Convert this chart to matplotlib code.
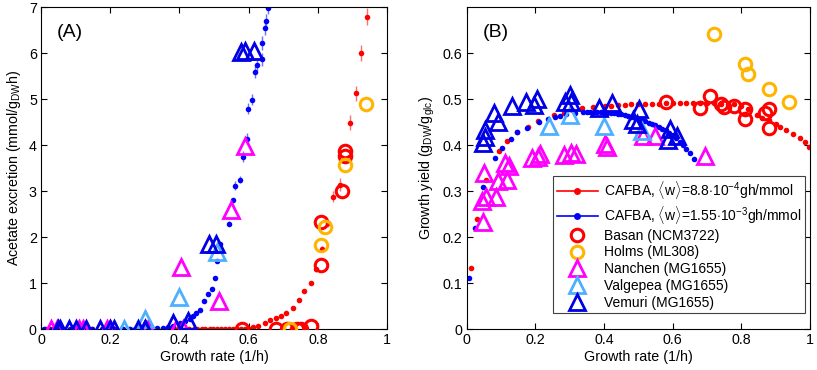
import matplotlib
matplotlib.use("Agg")
import matplotlib.pyplot as plt
from matplotlib.lines import Line2D

plt.rcParams['font.family'] = ['Liberation Sans', 'DejaVu Sans']
plt.rcParams['mathtext.fontset'] = 'custom'
plt.rcParams['mathtext.rm'] = 'Liberation Sans'
plt.rcParams['mathtext.it'] = 'Liberation Sans:italic'
plt.rcParams['mathtext.bf'] = 'Liberation Sans:bold'

# ---------------- Panel A data (acetate excretion) ----------------
# CAFBA model, w = 8.8e-4 (red)
redA_mu = [0.012, 0.029, 0.056, 0.095, 0.117, 0.147, 0.178, 0.208, 0.253, 0.283,
           0.307, 0.336, 0.360, 0.372, 0.383, 0.395, 0.406, 0.418, 0.429, 0.441,
           0.452, 0.464, 0.475, 0.487, 0.498, 0.510, 0.521, 0.533, 0.544, 0.556,
           0.567, 0.579, 0.590, 0.602, 0.613, 0.628, 0.647, 0.661, 0.679, 0.695,
           0.707, 0.727, 0.745, 0.759, 0.779, 0.795, 0.812, 0.828, 0.845, 0.863,
           0.894, 0.911, 0.926, 0.942]
redA_ac = [0, 0, 0, 0, 0, 0, 0, 0, 0, 0,
           0, 0, 0, 0, 0, 0, 0, 0, 0, 0,
           0, 0, 0, 0, 0, 0, 0, 0, 0, 0,
           0, 0, 0, 0.01, 0.04, 0.07, 0.13, 0.19, 0.24, 0.29,
           0.35, 0.46, 0.64, 0.82, 1.00, 1.30, 1.75, 2.30, 2.88, 3.14,
           4.49, 5.13, 6.01, 6.80]
redA_err = [0] * 44 + [0.03, 0.05, 0.06, 0.08, 0.12, 0.14, 0.16, 0.16, 0.18, 0.19]

# CAFBA model, w = 1.55e-3 (blue)
bluA_mu = [0.008, 0.024, 0.049, 0.083, 0.102, 0.129, 0.148, 0.176, 0.210, 0.237,
           0.258, 0.273, 0.289, 0.316, 0.334, 0.353, 0.368, 0.382, 0.401, 0.416,
           0.430, 0.440, 0.449, 0.459, 0.471, 0.483, 0.494, 0.502, 0.509, 0.516,
           0.542, 0.554, 0.561, 0.575, 0.583, 0.596, 0.599, 0.610, 0.618, 0.624,
           0.638, 0.640, 0.647, 0.649, 0.657]
bluA_ac = [0, 0, 0, 0, 0, 0, 0, 0, 0, 0,
           0, 0, 0, 0.01, 0.02, 0.03, 0.04, 0.07, 0.13, 0.17,
           0.21, 0.29, 0.35, 0.42, 0.62, 0.76, 0.87, 1.12, 1.47, 1.86,
           2.29, 2.80, 3.12, 3.25, 3.75, 4.14, 4.79, 4.99, 5.60, 5.75,
           5.87, 6.22, 6.54, 6.71, 6.98]
bluA_err = [0] * 30 + [0.05, 0.06, 0.10, 0.08, 0.12, 0.12, 0.12, 0.12, 0.14, 0.14,
                       0.14, 0.15, 0.15, 0.15, 0.12]

# Experiments (panel A)
basan_mu = [0.58, 0.68, 0.71, 0.74, 0.75, 0.78, 0.81, 0.81, 0.87, 0.88, 0.88]
basan_ac = [0.0, 0.0, 0.0, 0.0, 0.0, 0.07, 1.40, 2.33, 3.01, 3.77, 3.88]
holms_mu = [0.72, 0.81, 0.82, 0.88, 0.94]
holms_ac = [0.0, 1.83, 2.23, 3.56, 4.89]
nanA_mu = [0.03, 0.045, 0.05, 0.11, 0.12, 0.19, 0.20, 0.30, 0.31, 0.39, 0.41,
           0.406, 0.514, 0.549, 0.589]
nanA_ac = [0, 0, 0, 0, 0, 0, 0, 0, 0, 0, 0, 1.36, 0.62, 2.58, 3.99]
valA_mu = [0.24, 0.30, 0.40, 0.51]
valA_ac = [0.0, 0.21, 0.70, 1.67]
vemA_mu = [0.05, 0.055, 0.08, 0.10, 0.13, 0.17, 0.20, 0.21, 0.28, 0.30, 0.30,
           0.382, 0.425, 0.486, 0.505, 0.578, 0.59, 0.616]
vemA_ac = [0, 0, 0, 0, 0, 0, 0, 0, 0, 0, 0,
           0.14, 0.18, 1.85, 1.85, 6.02, 6.05, 6.05]

# ---------------- Panel B data (growth yield) ----------------
redB_mu = [0.012, 0.029, 0.056, 0.095, 0.117, 0.147, 0.178, 0.208, 0.253, 0.283,
           0.307, 0.336, 0.367, 0.402, 0.42, 0.44, 0.46, 0.48, 0.50, 0.52,
           0.54, 0.56, 0.58, 0.60, 0.62, 0.64, 0.66, 0.68, 0.70, 0.72,
           0.74, 0.76, 0.78, 0.80, 0.82, 0.845, 0.86, 0.88, 0.90, 0.913,
           0.931, 0.951, 0.971, 0.985, 0.997]
redB_y = [0.133, 0.240, 0.325, 0.388, 0.409, 0.429, 0.440, 0.452, 0.465, 0.471,
          0.476, 0.480, 0.483, 0.485, 0.486, 0.487, 0.488, 0.489, 0.489, 0.490,
          0.490, 0.490, 0.491, 0.491, 0.491, 0.491, 0.491, 0.491, 0.491, 0.491,
          0.490, 0.490, 0.489, 0.486, 0.478, 0.465, 0.460, 0.455, 0.447, 0.440,
          0.433, 0.425, 0.415, 0.407, 0.397]
bluB_mu = [0.008, 0.024, 0.049, 0.082, 0.103, 0.129, 0.148, 0.176, 0.210, 0.237,
           0.258, 0.273, 0.289, 0.316, 0.34, 0.35, 0.36, 0.37, 0.38, 0.39,
           0.40, 0.41, 0.42, 0.43, 0.44, 0.45, 0.46, 0.47, 0.48, 0.49,
           0.50, 0.51, 0.52, 0.53, 0.54, 0.55, 0.56, 0.57, 0.58, 0.59,
           0.60, 0.61, 0.62, 0.63, 0.64, 0.65, 0.662]
bluB_y = [0.111, 0.220, 0.308, 0.373, 0.393, 0.414, 0.428, 0.438, 0.450, 0.457,
          0.462, 0.463, 0.467, 0.470, 0.472, 0.472, 0.472, 0.472, 0.472, 0.472,
          0.471, 0.471, 0.470, 0.469, 0.468, 0.467, 0.465, 0.463, 0.461, 0.459,
          0.457, 0.455, 0.452, 0.449, 0.446, 0.443, 0.440, 0.436, 0.432, 0.427,
          0.422, 0.415, 0.408, 0.401, 0.392, 0.383, 0.370]

basan_y = [0.495, 0.480, 0.507, 0.490, 0.483, 0.486, 0.478, 0.457, 0.471, 0.478, 0.438]
holms_y = [0.642, 0.577, 0.555, 0.522, 0.495]
nanB_mu = [0.049, 0.044, 0.056, 0.085, 0.050, 0.092, 0.117, 0.112, 0.124, 0.189,
           0.214, 0.209, 0.284, 0.303, 0.318, 0.403, 0.41, 0.514, 0.549, 0.694]
nanB_y = [0.232, 0.278, 0.288, 0.288, 0.339, 0.321, 0.325, 0.362, 0.355, 0.373,
          0.381, 0.375, 0.379, 0.384, 0.381, 0.403, 0.397, 0.420, 0.420, 0.376]
valB_mu = [0.24, 0.30, 0.40, 0.51]
valB_y = [0.442, 0.466, 0.442, 0.431]
vemB_mu = [0.049, 0.052, 0.054, 0.080, 0.090, 0.132, 0.173, 0.195, 0.206, 0.285,
           0.302, 0.305, 0.386, 0.423, 0.485, 0.495, 0.503, 0.587, 0.592, 0.613]
vemB_y = [0.405, 0.417, 0.434, 0.469, 0.451, 0.485, 0.494, 0.487, 0.501, 0.494,
          0.510, 0.494, 0.481, 0.491, 0.454, 0.447, 0.478, 0.411, 0.436, 0.420]

xticks = [0, 0.2, 0.4, 0.6, 0.8, 1]
xticklabels = ['0', '0.2', '0.4', '0.6', '0.8', '1']
yticksA = [0, 1, 2, 3, 4, 5, 6, 7]
yticksB = [0, 0.1, 0.2, 0.3, 0.4, 0.5, 0.6]
yticklabelsB = ['0', '0.1', '0.2', '0.3', '0.4', '0.5', '0.6']

RED = '#FF0000'
ORANGE = '#FFB400'
MAGENTA = '#FF00FF'
LBLUE = '#4DB0FF'
BLUE = '#0000FF'
DBLUE = '#0000E6'

circ = dict(marker='o', ms=9, mfc='none', mew=2.2, ls='none')
tri = dict(marker='^', ms=11, mfc='none', mew=2.0, ls='none')
dot = dict(marker='o', ms=4, ls='none', mew=0)

fig = plt.figure(figsize=(8.17, 3.70), dpi=100)
ax1 = fig.add_axes([0.0502, 0.1108, 0.4235, 0.8694])
ax2 = fig.add_axes([0.5712, 0.1108, 0.4202, 0.8694])

# Panel A
ax1.errorbar(redA_mu, redA_ac, yerr=redA_err, fmt='none', ecolor='#FF7070', elinewidth=1, zorder=1)
ax1.errorbar(bluA_mu, bluA_ac, yerr=bluA_err, fmt='none', ecolor='#7070FF', elinewidth=1, zorder=1)
ax1.plot(redA_mu, redA_ac, color=RED, zorder=2, **dot)
ax1.plot(bluA_mu, bluA_ac, color=BLUE, zorder=2, **dot)
ax1.plot(basan_mu, basan_ac, mec=RED, zorder=3, **circ)
ax1.plot(holms_mu, holms_ac, mec=ORANGE, zorder=3, **circ)
ax1.plot(nanA_mu, nanA_ac, mec=MAGENTA, zorder=3, **tri)
ax1.plot(valA_mu, valA_ac, mec=LBLUE, zorder=3, **tri)
ax1.plot(vemA_mu, vemA_ac, mec=DBLUE, zorder=3, **tri)
ax1.set_xlim(0, 1)
ax1.set_ylim(0, 7)
ax1.set_xticks(xticks)
ax1.set_xticklabels(xticklabels)
ax1.set_yticks(yticksA)
ax1.set_xlabel('Growth rate (1/h)', fontsize=10.3, labelpad=2)
ax1.set_ylabel(r'Acetate excretion (mmol/g$_{\rm DW}$h)', fontsize=10.3, labelpad=4)
ax1.text(0.046, 0.948, '(A)', transform=ax1.transAxes, fontsize=14, va='top', ha='left')

# Panel B
ax2.plot(redB_mu, redB_y, color=RED, zorder=2, **dot)
ax2.plot(bluB_mu, bluB_y, color=BLUE, zorder=2, **dot)
ax2.plot(basan_mu, basan_y, mec=RED, zorder=3, **circ)
ax2.plot(holms_mu, holms_y, mec=ORANGE, zorder=3, **circ)
ax2.plot(nanB_mu, nanB_y, mec=MAGENTA, zorder=3, **tri)
ax2.plot(valB_mu, valB_y, mec=LBLUE, zorder=3, **tri)
ax2.plot(vemB_mu, vemB_y, mec=DBLUE, zorder=3, **tri)
ax2.set_xlim(0, 1)
ax2.set_ylim(0, 0.7)
ax2.set_xticks(xticks)
ax2.set_xticklabels(xticklabels)
ax2.set_yticks(yticksB)
ax2.set_yticklabels(yticklabelsB)
ax2.set_xlabel('Growth rate (1/h)', fontsize=10.3, labelpad=2)
ax2.set_ylabel(r'Growth yield (g$_{\rm DW}$/g$_{\rm glc}$)', fontsize=10.3, labelpad=4)
ax2.text(0.046, 0.948, '(B)', transform=ax2.transAxes, fontsize=14, va='top', ha='left')

for ax in (ax1, ax2):
    ax.tick_params(direction='in', top=True, right=True, length=4, width=0.8,
                   labelsize=10.3, pad=3)
    for s in ax.spines.values():
        s.set_linewidth(0.8)

handles = [
    Line2D([], [], color=RED, marker='o', ms=5, mew=0, lw=1.2),
    Line2D([], [], color=BLUE, marker='o', ms=5, mew=0, lw=1.2),
    Line2D([], [], mec=RED, **circ),
    Line2D([], [], mec=ORANGE, **circ),
    Line2D([], [], mec=MAGENTA, **tri),
    Line2D([], [], mec=LBLUE, **tri),
    Line2D([], [], mec=DBLUE, **tri),
]
labels = [
    r'CAFBA, $\langle$w$\rangle$=8.8$\cdot$10$^{-4}$gh/mmol',
    r'CAFBA, $\langle$w$\rangle$=1.55$\cdot$10$^{-3}$gh/mmol',
    'Basan (NCM3722)',
    'Holms (ML308)',
    'Nanchen (MG1655)',
    'Valgepea (MG1655)',
    'Vemuri (MG1655)',
]
leg = ax2.legend(handles, labels, loc='lower left', bbox_to_anchor=(0.252, 0.049),
                 fontsize=10, frameon=True, fancybox=False, framealpha=1,
                 edgecolor='#404040', handlelength=3.0, handletextpad=0.4,
                 labelspacing=0.2, borderpad=0.25, borderaxespad=0)
leg.get_frame().set_linewidth(0.8)

fig.savefig('out.png', dpi=100)
